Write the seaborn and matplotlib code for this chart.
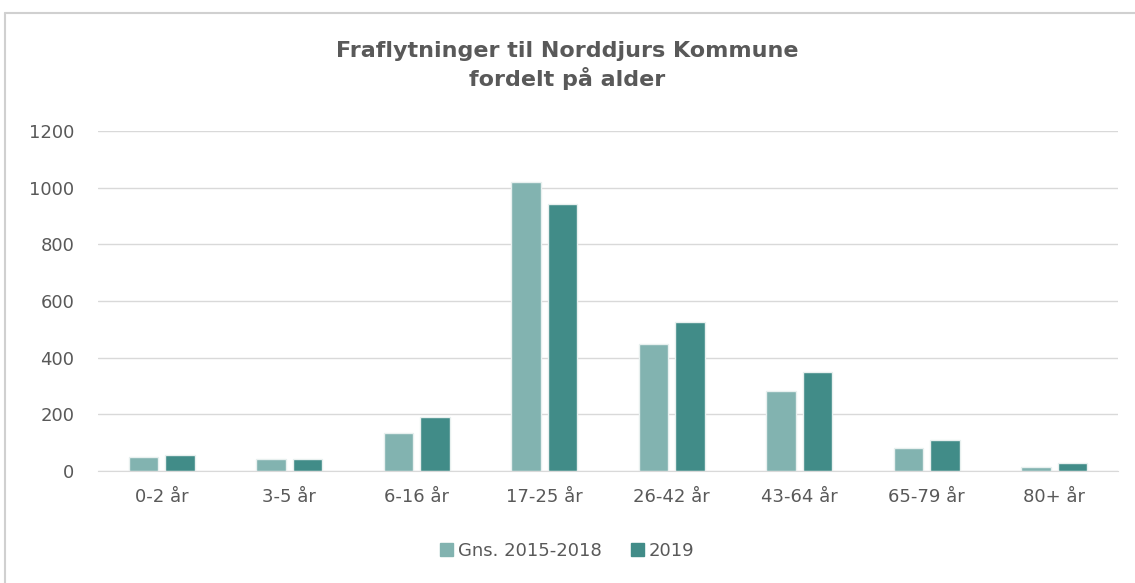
import pandas as pd
import matplotlib.pyplot as plt
import seaborn as sns
from matplotlib.patches import Rectangle
from matplotlib.lines import Line2D

# Data
aldersgrupper = ["0-2 år", "3-5 år", "6-16 år", "17-25 år", "26-42 år", "43-64 år", "65-79 år", "80+ år"]
gns_2015_2018 = [49, 42, 134, 1020, 448, 282, 81, 14]
aar_2019 = [56, 42, 190, 942, 526, 349, 109, 28]
serier = ["Gns. 2015-2018", "2019"]
farver = ["#82B3B0", "#418C88"]

df = pd.DataFrame({
    "Alder": aldersgrupper * 2,
    "Antal": gns_2015_2018 + aar_2019,
    "Serie": [serier[0]] * len(aldersgrupper) + [serier[1]] * len(aldersgrupper),
})

sns.set_style("white")
plt.rcParams["font.family"] = ["DejaVu Sans"]
tekst = "#595959"

fig = plt.figure(figsize=(11.35, 5.83), dpi=100)
ax = fig.add_axes([0.0863, 0.192, 0.8987, 0.583])

sns.barplot(data=df, x="Alder", y="Antal", hue="Serie", palette=farver,
            saturation=1, width=0.575, gap=0.19, edgecolor="#E8F0EF",
            linewidth=1, legend=False, ax=ax)

ax.set_xlim(-0.5, 7.5)
ax.set_ylim(0, 1200)
ax.set_yticks(range(0, 1201, 200))
ax.yaxis.grid(True, color="#D9D9D9", linewidth=1)
ax.set_axisbelow(True)
for s in ["top", "right", "left"]:
    ax.spines[s].set_visible(False)
ax.spines["bottom"].set_color("#D9D9D9")
ax.tick_params(axis="both", length=0, labelsize=13, colors=tekst)
ax.tick_params(axis="x", pad=12)
ax.tick_params(axis="y", pad=17)
ax.set_xlabel("")
ax.set_ylabel("")

fig.text(0.5, 0.888, "Fraflytninger til Norddjurs Kommune\nfordelt på alder",
         ha="center", va="center", fontsize=16, fontweight="bold",
         color=tekst, linespacing=1.3)

handles = [Rectangle((0, 0), 1, 1, color=c) for c in farver]
fig.legend(handles, serier, loc="center", bbox_to_anchor=(0.5, 0.055), ncol=2,
           frameon=False, fontsize=13, labelcolor=tekst, handlelength=0.7,
           handleheight=0.7, handletextpad=0.3, columnspacing=1.6)

# ramme rundt om diagrammet (kun venstre og top synlig)
x0 = 4.5 / 1135
y0 = 1 - 12.5 / 583
fig.add_artist(Line2D([x0, x0], [0, y0], transform=fig.transFigure,
                      color="#D0D0D0", linewidth=1.5))
fig.add_artist(Line2D([x0, 1], [y0, y0], transform=fig.transFigure,
                      color="#D0D0D0", linewidth=1.5))

fig.savefig("out.png", dpi=100)
